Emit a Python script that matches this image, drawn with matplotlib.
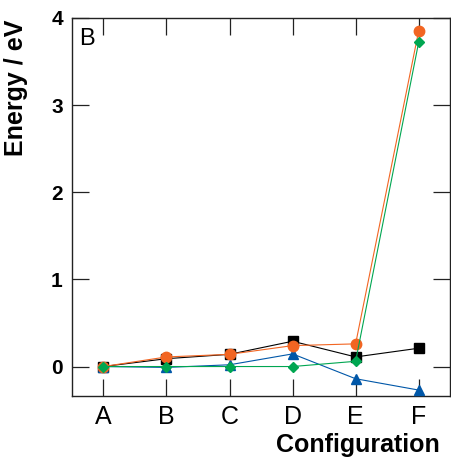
import matplotlib
matplotlib.use('Agg')
import matplotlib.pyplot as plt

plt.rcParams['font.family'] = ['Liberation Sans', 'DejaVu Sans']

configs = ['A', 'B', 'C', 'D', 'E', 'F']

# energies (eV)
black_sq = [0.0, 0.09, 0.14, 0.29, 0.11, 0.21]
blue_tri = [0.0, -0.01, 0.02, 0.145, -0.14, -0.27]
orange_circ = [0.0, 0.11, 0.14, 0.24, 0.26, 3.85]
green_dia = [0.0, 0.0, 0.0, 0.0, 0.06, 3.72]

x = list(range(len(configs)))

fig = plt.figure(figsize=(4.52, 4.58), dpi=100)
ax = fig.add_axes([0.159, 0.135, 0.837, 0.826])

ax.plot(x, black_sq, color='black', marker='s', markersize=6.5, linewidth=0.8, zorder=2)
ax.plot(x, blue_tri, color='#0057a8', marker='^', markersize=7.5, linewidth=0.8, zorder=3)
ax.plot(x, orange_circ, color='#f26522', marker='o', markersize=7.5, linewidth=0.8, zorder=4)
ax.plot(x, green_dia, color='#00a651', marker='D', markersize=5.5, linewidth=0.8, zorder=5)

ax.set_xlim(-0.5, 5.5)
ax.set_ylim(-0.34, 4.0)
ax.set_xticks(x)
ax.set_xticklabels(configs, fontsize=18)
ax.set_yticks([0, 1, 2, 3, 4])
ax.set_yticklabels(['0', '1', '2', '3', '4'], fontsize=15, fontweight='bold')

ax.tick_params(axis='both', direction='in', length=12, width=0.9,
               top=True, right=True, color='#222222')
ax.tick_params(axis='x', pad=6)
ax.tick_params(axis='y', pad=6.5)

for s in ax.spines.values():
    s.set_linewidth(1.0)
    s.set_color('#222222')

fig.text(16 / 452, 1 - 20 / 458, 'Energy / eV', rotation=90, fontsize=18,
         fontweight='bold', ha='center', va='top')
fig.text(440 / 452, 6 / 458, 'Configuration', fontsize=18,
         fontweight='bold', ha='right', va='baseline')

ax.text(0.018, 0.929, 'B', transform=ax.transAxes, fontsize=17, ha='left', va='baseline')

fig.savefig('out.png', dpi=100)
